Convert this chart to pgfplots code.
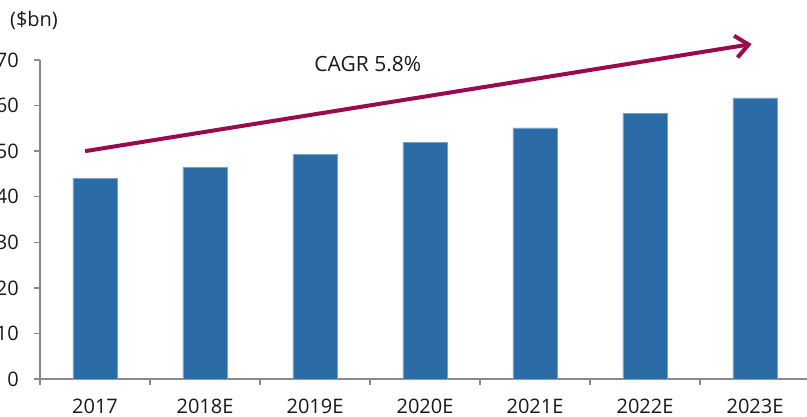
\documentclass[border=0pt]{standalone}
\usepackage{fontspec}
\setmainfont{Open Sans}
\usepackage{pgfplots}
\pgfplotsset{compat=1.18}
\usetikzlibrary{arrows.meta}
\definecolor{barblue}{RGB}{43,108,166}
\definecolor{baredge}{RGB}{120,160,200}
\definecolor{arrowc}{RGB}{154,10,80}
\definecolor{axgray}{RGB}{138,138,138}
\definecolor{txt}{RGB}{26,26,26}
\newcommand\cf{\fontsize{20}{24}\selectfont}
\pgfplotstableread{
idx value
0 44.0
1 46.4
2 49.2
3 52.0
4 55.1
5 58.3
6 61.7
}\datatable
\begin{document}
\begin{tikzpicture}
\begin{axis}[
  name=ax,
  at={(0,0)}, anchor=south west,
  scale only axis,
  width=770pt, height=319pt,
  xmin=-0.5, xmax=6.5,
  ymin=0, ymax=70,
  axis x line=bottom, axis y line=left,
  axis line style={draw=axgray, line width=1.4pt, -},
  clip=false,
  ybar, bar width=44pt,
  xtick={0,1,2,3,4,5,6},
  xticklabels={2017,2018E,2019E,2020E,2021E,2022E,2023E},
  minor xtick={-0.5,0.5,1.5,2.5,3.5,4.5,5.5,6.5},
  major x tick style={draw=none},
  minor x tick style={draw=axgray, line width=1.4pt},
  ytick={0,10,20,30,40,50,60,70},
  y tick style={draw=axgray, line width=1.4pt},
  tick align=outside,
  major tick length=6pt, minor tick length=6pt,
  /pgf/number format/assume math mode=true,
  xticklabel style={font=\cf, text=txt, anchor=base, yshift=-28pt, inner sep=0pt},
  yticklabel style={font=\cf, text=txt, anchor=east, inner sep=0pt, xshift=-15pt},
]
\addplot[fill=barblue, draw=baredge, line width=0.6pt] table[x=idx, y=value] {\datatable};
\draw[arrowc, line width=4pt, -{Straight Barb[length=13pt, width=22pt]}] (axis cs:-0.09,50.0) -- (axis cs:5.97,73.5);
\node[font=\fontsize{21}{25}\selectfont, text=txt, inner sep=0pt] at (axis cs:2.48,69.1) {CAGR 5.8\%};
\end{axis}
\node[font=\cf, text=txt, inner sep=0pt] at ([shift={(-6pt,359pt)}]ax.south west) {(\$bn)};
\pgfresetboundingbox
\path[use as bounding box] ([shift={(-40pt,-37pt)}]ax.south west) rectangle ([shift={(767pt,379pt)}]ax.south west);
\end{tikzpicture}
\end{document}
